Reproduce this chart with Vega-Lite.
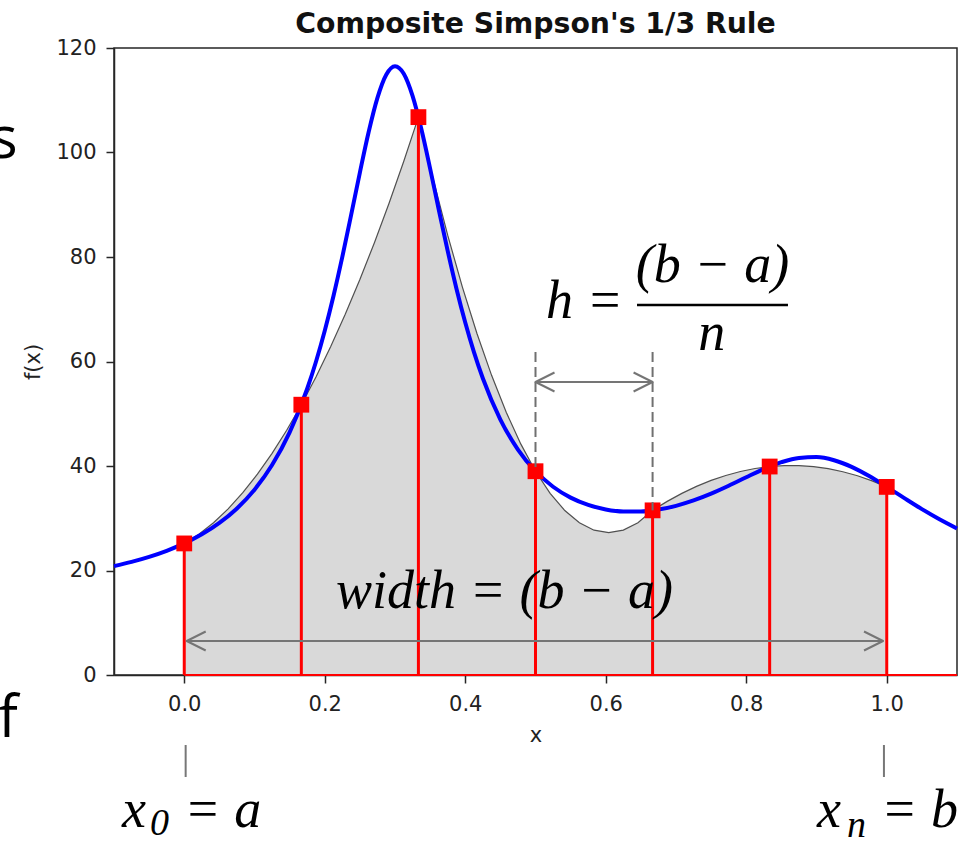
{
  "$schema": "https://vega.github.io/schema/vega-lite/v6.json",
  "width": 843,
  "height": 627,
  "autosize": {"type": "none"},
  "padding": {"left": 114, "top": 48, "right": 6, "bottom": 166},
  "background": "white",
  "title": {
    "text": "Composite Simpson's 1/3 Rule",
    "font": "DejaVu Sans",
    "fontSize": 28.3,
    "fontWeight": "bold",
    "color": "#111111",
    "anchor": "middle",
    "offset": 9,
    "dy": 11
  },
  "config": {
    "view": {"stroke": "#262626", "strokeWidth": 1.5},
    "axis": {
      "grid": false,
      "domain": true,
      "domainColor": "#262626",
      "domainWidth": 1.5,
      "tickColor": "#262626",
      "tickWidth": 1.5,
      "tickSize": 8,
      "labelFont": "DejaVu Sans",
      "labelFontSize": 21,
      "labelColor": "#222222",
      "labelPadding": 10,
      "titleFont": "DejaVu Sans",
      "titleFontSize": 21,
      "titleFontWeight": "normal",
      "titleColor": "#222222"
    }
  },
  "datasets": {
    "curve": [
      {"x": -0.1, "y": 20.84}, {"x": -0.075, "y": 21.65}, {"x": -0.05, "y": 22.61}, {"x": -0.025, "y": 23.77},
      {"x": 0.0, "y": 25.18}, {"x": 0.025, "y": 26.92}, {"x": 0.05, "y": 29.1}, {"x": 0.075, "y": 31.88},
      {"x": 0.1, "y": 35.47}, {"x": 0.125, "y": 40.18}, {"x": 0.15, "y": 46.43}, {"x": 0.175, "y": 54.79},
      {"x": 0.1875, "y": 59.96}, {"x": 0.2, "y": 65.89}, {"x": 0.2125, "y": 72.59}, {"x": 0.225, "y": 80.02},
      {"x": 0.2375, "y": 88.0}, {"x": 0.25, "y": 96.16}, {"x": 0.2625, "y": 103.91}, {"x": 0.275, "y": 110.44},
      {"x": 0.2875, "y": 114.87}, {"x": 0.3, "y": 116.5}, {"x": 0.3125, "y": 115.06}, {"x": 0.325, "y": 110.82},
      {"x": 0.3375, "y": 104.48}, {"x": 0.35, "y": 96.92}, {"x": 0.3625, "y": 88.95}, {"x": 0.375, "y": 81.17},
      {"x": 0.3875, "y": 73.94}, {"x": 0.4, "y": 67.45}, {"x": 0.4125, "y": 61.74}, {"x": 0.425, "y": 56.79},
      {"x": 0.45, "y": 48.89}, {"x": 0.475, "y": 43.15}, {"x": 0.5, "y": 39.0}, {"x": 0.525, "y": 36.03},
      {"x": 0.55, "y": 33.95}, {"x": 0.575, "y": 32.55}, {"x": 0.6, "y": 31.69}, {"x": 0.625, "y": 31.3},
      {"x": 0.65, "y": 31.3}, {"x": 0.675, "y": 31.67}, {"x": 0.7, "y": 32.38}, {"x": 0.725, "y": 33.41},
      {"x": 0.75, "y": 34.71}, {"x": 0.775, "y": 36.22}, {"x": 0.8, "y": 37.85}, {"x": 0.825, "y": 39.42},
      {"x": 0.85, "y": 40.73}, {"x": 0.875, "y": 41.55}, {"x": 0.9, "y": 41.7}, {"x": 0.925, "y": 41.11},
      {"x": 0.95, "y": 39.84}, {"x": 0.975, "y": 38.07}, {"x": 1.0, "y": 36.0}, {"x": 1.025, "y": 33.85},
      {"x": 1.05, "y": 31.75}, {"x": 1.075, "y": 29.8}, {"x": 1.1, "y": 28.04}
    ],
    "parabola": [
      {"x": 0.0, "y": 25.18}, {"x": 0.02083, "y": 26.94}, {"x": 0.04167, "y": 29.15}, {"x": 0.0625, "y": 31.8},
      {"x": 0.08333, "y": 34.89}, {"x": 0.10417, "y": 38.44}, {"x": 0.125, "y": 42.42}, {"x": 0.14583, "y": 46.85},
      {"x": 0.16667, "y": 51.73}, {"x": 0.1875, "y": 57.05}, {"x": 0.20833, "y": 62.82}, {"x": 0.22917, "y": 69.03},
      {"x": 0.25, "y": 75.69}, {"x": 0.27083, "y": 82.79}, {"x": 0.29167, "y": 90.34}, {"x": 0.3125, "y": 98.33},
      {"x": 0.33333, "y": 106.77}, {"x": 0.35417, "y": 95.0}, {"x": 0.375, "y": 84.18}, {"x": 0.39583, "y": 74.29},
      {"x": 0.41667, "y": 65.35}, {"x": 0.4375, "y": 57.35}, {"x": 0.45833, "y": 50.29}, {"x": 0.47917, "y": 44.18},
      {"x": 0.5, "y": 39.0}, {"x": 0.52083, "y": 34.77}, {"x": 0.54167, "y": 31.48}, {"x": 0.5625, "y": 29.13},
      {"x": 0.58333, "y": 27.72}, {"x": 0.60417, "y": 27.26}, {"x": 0.625, "y": 27.73}, {"x": 0.64583, "y": 29.15},
      {"x": 0.66667, "y": 31.51}, {"x": 0.6875, "y": 33.23}, {"x": 0.70833, "y": 34.76}, {"x": 0.72917, "y": 36.1},
      {"x": 0.75, "y": 37.24}, {"x": 0.77083, "y": 38.19}, {"x": 0.79167, "y": 38.95}, {"x": 0.8125, "y": 39.52},
      {"x": 0.83333, "y": 39.9}, {"x": 0.85417, "y": 40.09}, {"x": 0.875, "y": 40.08}, {"x": 0.89583, "y": 39.88},
      {"x": 0.91667, "y": 39.49}, {"x": 0.9375, "y": 38.9}, {"x": 0.95833, "y": 38.13}, {"x": 0.97917, "y": 37.16},
      {"x": 1.0, "y": 36.0}
    ],
    "nodes": [
      {"x": 0.0, "y": 25.18}, {"x": 0.16667, "y": 51.73}, {"x": 0.33333, "y": 106.77}, {"x": 0.5, "y": 39.0},
      {"x": 0.66667, "y": 31.51}, {"x": 0.83333, "y": 39.9}, {"x": 1.0, "y": 36.0}
    ],
    "baseline": [{"x": 0.0, "x2": 1.1, "y": 0}],
    "guides": [
      {"x": 0.5, "y": 61.8, "y2": 39.0},
      {"x": 0.66667, "y": 61.8, "y2": 31.51}
    ],
    "spans": [
      {"x": 0.5, "x2": 0.66667, "y": 56.08},
      {"x": 0.0035, "x2": 0.9947, "y": 6.51}
    ],
    "headsLeft": [{"x": 0.5, "y": 56.08}, {"x": 0.0035, "y": 6.51}],
    "headsRight": [{"x": 0.66667, "y": 56.08}, {"x": 0.9947, "y": 6.51}],
    "endTicks": [
      {"x": 0.002, "y": -13.4, "y2": -19.52},
      {"x": 0.996, "y": -13.4, "y2": -19.52}
    ],
    "fracBar": [{"x": 0.6445, "x2": 0.8594, "y": 70.81}],
    "mathCentered": [
      {"x": 0.752, "y": 75.22, "text": "(b − a)"},
      {"x": 0.751, "y": 62.2, "text": "n"},
      {"x": 0.4559, "y": 12.82, "text": "width = (b − a)"}
    ],
    "mathLeft": [
      {"x": 0.5148, "y": 68.33, "text": "h ="},
      {"x": -0.0886, "y": -29.09, "text": "x"},
      {"x": 0.0, "y": -29.09, "text": "= a"},
      {"x": 0.9007, "y": -29.09, "text": "x"},
      {"x": 0.9918, "y": -29.09, "text": "= b"}
    ],
    "mathSub": [
      {"x": -0.0488, "y": -30.62, "text": "0"},
      {"x": 0.9434, "y": -31.0, "text": "n"}
    ],
    "sideText": [
      {"x": -0.237, "y": 98.95, "text": "s"},
      {"x": -0.237, "y": -11.87, "text": "f"}
    ]
  },
  "encoding": {
    "x": {
      "field": "x",
      "type": "quantitative",
      "scale": {"domain": [-0.1, 1.1], "nice": false, "zero": false},
      "axis": {"values": [0, 0.2, 0.4, 0.6, 0.8, 1.0], "format": ".1f", "title": "x", "titlePadding": 10}
    },
    "y": {
      "field": "y",
      "type": "quantitative",
      "scale": {"domain": [0, 120], "nice": false},
      "axis": {"values": [0, 20, 40, 60, 80, 100, 120], "format": "d", "title": "f(x)", "titlePadding": 12}
    }
  },
  "layer": [
    {
      "data": {"name": "parabola"},
      "mark": {"type": "area", "color": "#d9d9d9", "opacity": 1},
      "encoding": {"y2": {"datum": 0}}
    },
    {
      "data": {"name": "parabola"},
      "mark": {"type": "line", "color": "#505050", "strokeWidth": 1.2}
    },
    {
      "data": {"name": "curve"},
      "mark": {"type": "line", "color": "#0000ff", "strokeWidth": 4, "interpolate": "monotone"}
    },
    {
      "data": {"name": "nodes"},
      "mark": {"type": "rule", "color": "#ff0000", "strokeWidth": 3},
      "encoding": {"y2": {"datum": 0}}
    },
    {
      "data": {"name": "baseline"},
      "mark": {"type": "rule", "color": "#ff0000", "strokeWidth": 2},
      "encoding": {"x2": {"field": "x2"}}
    },
    {
      "data": {"name": "nodes"},
      "mark": {"type": "point", "shape": "square", "size": 250, "filled": true, "color": "#ff0000", "opacity": 1}
    },
    {
      "data": {"name": "guides"},
      "mark": {"type": "rule", "color": "#707070", "strokeWidth": 2, "strokeDash": [10, 5]},
      "encoding": {"y2": {"field": "y2"}}
    },
    {
      "data": {"name": "spans"},
      "mark": {"type": "rule", "color": "#757575", "strokeWidth": 2},
      "encoding": {"x2": {"field": "x2"}}
    },
    {
      "data": {"name": "headsLeft"},
      "mark": {"type": "point", "shape": "M 1 -0.5 L 0 0 L 1 0.5", "size": 1444, "filled": false, "color": "#757575", "strokeWidth": 2, "strokeJoin": "round", "opacity": 1}
    },
    {
      "data": {"name": "headsRight"},
      "mark": {"type": "point", "shape": "M -1 -0.5 L 0 0 L -1 0.5", "size": 1444, "filled": false, "color": "#757575", "strokeWidth": 2, "strokeJoin": "round", "opacity": 1}
    },
    {
      "data": {"name": "endTicks"},
      "mark": {"type": "rule", "color": "#777777", "strokeWidth": 2},
      "encoding": {"y2": {"field": "y2"}}
    },
    {
      "data": {"name": "fracBar"},
      "mark": {"type": "rule", "color": "#000000", "strokeWidth": 2.5},
      "encoding": {"x2": {"field": "x2"}}
    },
    {
      "data": {"name": "mathCentered"},
      "mark": {"type": "text", "font": "Liberation Serif", "fontStyle": "italic", "fontSize": 54, "align": "center", "baseline": "alphabetic", "color": "#000000"},
      "encoding": {"text": {"field": "text"}}
    },
    {
      "data": {"name": "mathLeft"},
      "mark": {"type": "text", "font": "Liberation Serif", "fontStyle": "italic", "fontSize": 54, "align": "left", "baseline": "alphabetic", "color": "#000000"},
      "encoding": {"text": {"field": "text"}}
    },
    {
      "data": {"name": "mathSub"},
      "mark": {"type": "text", "font": "Liberation Serif", "fontStyle": "italic", "fontSize": 38, "align": "left", "baseline": "alphabetic", "color": "#000000"},
      "encoding": {"text": {"field": "text"}}
    },
    {
      "data": {"name": "sideText"},
      "mark": {"type": "text", "font": "Open Sans", "fontSize": 58, "align": "right", "baseline": "alphabetic", "color": "#000000"},
      "encoding": {"text": {"field": "text"}}
    }
  ]
}
